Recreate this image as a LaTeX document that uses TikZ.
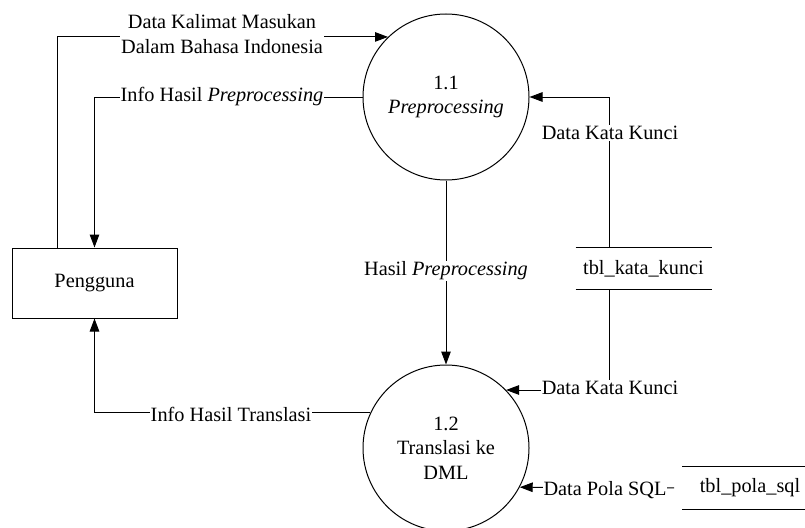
\documentclass[tikz,border=0pt]{standalone}
\usepackage{fontspec}
\setmainfont{Liberation Serif}
\usetikzlibrary{arrows.meta}
\begin{document}
\begin{tikzpicture}[x=1pt,y=-1pt,
  font=\fontsize{20.3}{24.5}\selectfont,
  line width=1pt,
  arr/.style={-{Triangle[length=13pt,width=9.5pt]}},
  proc/.style={circle,draw,minimum size=166pt,inner sep=0pt,align=center},
  ent/.style={rectangle,draw,minimum width=165pt,minimum height=70pt},
  store/.style={minimum width=135pt,minimum height=41pt,inner sep=0pt},
  lbl/.style={fill=white,inner sep=1pt,align=center}]
\useasboundingbox (0,0) rectangle (805,527);
% nodes
\node[proc] (c11) at (446,97) {1.1\\\textit{Preprocessing}};
\node[proc] (c12) at (446,448) {1.2\\Translasi ke\\DML};
\node[ent] (pg) at (94.5,283) {Pengguna};
\node[store] (kk) at (643.5,268.5) {tbl\_kata\_kunci};
\draw (kk.north west) -- (kk.north east) (kk.south west) -- (kk.south east);
\node[store,minimum height=42pt] (pl) at (750,488) {tbl\_pola\_sql};
\draw (pl.north west) -- (pl.north east) (pl.south west) -- (pl.south east);
% connectors
\draw[arr] ([xshift=-37.5pt]pg.north) |- (c11.134.7);
\draw[arr] (c11.west) -| (pg.north);
\draw[arr] (c11.south) -- (c12.north);
\draw[arr] ([xshift=-34.5pt]kk.north) |- (c11.east);
\draw[arr] ([xshift=-34.5pt]kk.south) |- (c12.44.3);
\draw[arr, shorten <=8pt] (pl.west) -- (c12.-28.8);
\draw[arr] (c12.155.8) -| (pg.south);
% labels
\node[lbl] (l1) at (222,34) {Data Kalimat Masukan\\Dalam Bahasa Indonesia};
\node[lbl] (l2) at (222,97) {Info Hasil \textit{Preprocessing}};
\node[lbl] (l3) at (446,271) {Hasil \textit{Preprocessing}};
\node[lbl] (l4) at (610,133) {Data Kata Kunci};
\node[lbl] (l5) at (610,388) {Data Kata Kunci};
\node[lbl] (l6) at (605,490) {Data Pola SQL};
\node[lbl] (l7) at (231,414) {Info Hasil Translasi};
\end{tikzpicture}
\end{document}
